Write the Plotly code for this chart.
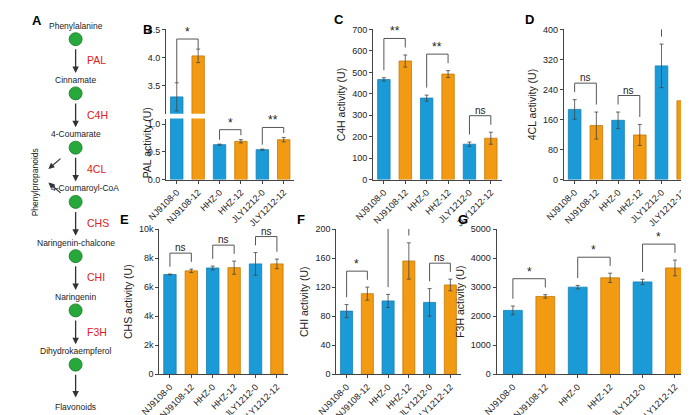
import plotly.graph_objects as go

W, H = 689, 415
cats = ["NJ9108-0", "NJ9108-12", "HHZ-0", "HHZ-12", "JLY1212-0", "JLY1212-12"]
pal_v = [3.30, 4.03, 0.63, 0.69, 0.54, 0.72]
pal_e = [0.25, 0.12, 0.01, 0.03, 0.01, 0.04]
c4h_v = [467, 553, 380, 492, 165, 193]
c4h_e = [8, 28, 14, 16, 10, 28]
cl4_v = [187, 144, 158, 119, 303, 210]
cl4_e = [26, 36, 22, 28, 58, 44]
chs_v = [6870, 7120, 7320, 7340, 7600, 7600]
chs_e = [30, 120, 130, 450, 780, 330]
chi_v = [87, 111, 101, 156, 99, 123]
chi_e = [9, 9, 9, 25, 19, 8]
f3h_v = [2200, 2680, 3000, 3320, 3180, 3660]
f3h_e = [150, 60, 60, 160, 90, 270]
sig = {
    "B": ["*", "*", "**"], "C": ["**", "**", "ns"], "D": ["ns", "ns", "ns"],
    "E": ["ns", "ns", "ns"], "F": ["*", "*", "ns"], "G": ["*", "*", "*"],
}
nodes = ["Phenylalanine", "Cinnamate", "4-Coumarate", "4-Coumaroyl-CoA",
         "Naringenin-chalcone", "Naringenin", "Dihydrokaempferol"]
enzymes = ["PAL", "C4H", "4CL", "CHS", "CHI", "F3H"]
end_node = "Flavonoids"

BLUE, ORANGE = "#1a9ad6", "#f29a12"
BLUE_L, ORANGE_L = "#1580b4", "#c47a08"
FONT = "Liberation Sans, Arial"

def xd(a, b): return [a / W, b / W]
def yd(top, bot): return [1 - bot / H, 1 - top / H]

fig = go.Figure()
layout = dict(width=W, height=H, margin=dict(l=0, r=0, t=0, b=0),
              plot_bgcolor="rgba(0,0,0,0)", paper_bgcolor="white", showlegend=False,
              font=dict(family=FONT, size=9, color="#222"), bargap=0.42)
shapes, annots = [], []

TOP = (17, 172); BOT = (223, 373)
panels = [
    ("C", c4h_v, c4h_e, "C4H activity (U)", (356, 488), TOP, [0, 700], 100, 2),
    ("D", cl4_v, cl4_e, "4CL activity (U)", (552, 686), TOP, [0, 400], 80, 3),
    ("E", chs_v, chs_e, "CHS activity (U)", (136, 268), BOT, [0, 10000], 2000, 4),
    ("F", chi_v, chi_e, "CHI activity (U)", (318, 446), BOT, [0, 200], 40, 5),
    ("G", f3h_v, f3h_e, "F3H activity (U)", (483, 683), BOT, [0, 5000], 1000, 6),
]

def bars(xa, ya, v, e):
    fig.add_trace(go.Bar(x=cats, y=v, xaxis=xa, yaxis=ya,
                         marker=dict(color=[BLUE, ORANGE] * 3,
                                     line=dict(color=[BLUE_L, ORANGE_L] * 3, width=0.8)),
                         error_y=dict(type="data", array=e, color="#444", thickness=0.8, width=2)))

def xaxis_cfg(dom, anchor):
    return dict(domain=xd(*dom), anchor=anchor, showline=True, linecolor="#444",
                tickangle=-45, ticks="outside", ticklen=3, tickcolor="#444",
                tickfont=dict(size=9), showgrid=False)

def yaxis_cfg(dom, anchor, rng, dt, title):
    return dict(domain=yd(*dom), anchor=anchor, range=rng, dtick=dt, showline=True,
                linecolor="#444", ticks="outside", ticklen=3, tickcolor="#444",
                showgrid=False, zeroline=False, tickfont=dict(size=9),
                title=dict(text=title, font=dict(size=10.5), standoff=4))

def brackets(xa, ya, v, e, labels, span, gap_frac=0.05, h_frac=0.06):
    for k, lab in enumerate(labels):
        i, j = 2 * k, 2 * k + 1
        gap = span * gap_frac
        lo_i, lo_j = v[i] + e[i] + gap, v[j] + e[j] + gap
        top = max(lo_i, lo_j) + span * h_frac
        line = dict(color="#555", width=1)
        shapes.append(dict(type="path", xref=xa, yref=ya, line=line,
                           path=f"M {i} {lo_i} L {i} {top} L {j} {top} L {j} {lo_j}"))
        annots.append(dict(x=(i + j) / 2, y=top, xref=xa, yref=ya, text=lab, showarrow=False,
                           yanchor="bottom", font=dict(size=10 if lab == "ns" else 12), yshift=-2))

for letter, v, e, title, xdom, ydom, rng, dt, n in panels:
    xa, ya = f"x{n}", f"y{n}"
    bars(xa, ya, v, e)
    layout[f"xaxis{n}"] = xaxis_cfg(xdom, ya)
    layout[f"yaxis{n}"] = yaxis_cfg(ydom, xa, rng, dt, title)
    brackets(xa, ya, v, e, sig[letter], rng[1] - rng[0])
    annots.append(dict(x=(xdom[0] - 42) / W, y=1 - (ydom[0] - 10) / H, xref="paper", yref="paper",
                       text=f"<b>{letter}</b>", showarrow=False, font=dict(size=13, color="black"),
                       xanchor="left", yanchor="middle"))

# Panel B (broken axis)
bx = (143, 275)
bars("x", "y", pal_v, pal_e)
bars("x", "y8", pal_v, pal_e)
layout["xaxis"] = xaxis_cfg(bx, "y")
layout["yaxis"] = yaxis_cfg((109, 172), "x", [0, 1.1], 0.5, "")
layout["yaxis"]["tickformat"] = ".1f"
layout["yaxis8"] = yaxis_cfg((17, 104), "x", [3.0, 4.5], 0.5, "")
layout["yaxis8"]["tickvals"] = [3.5, 4.0, 4.5]
layout["yaxis8"]["ticktext"] = ["3.5", "4.0", "4.5"]
annots.append(dict(x=(bx[0] - 28) / W, y=1 - 95 / H, xref="paper", yref="paper", textangle=-90,
                   text="PAL activity (U)", showarrow=False, font=dict(size=10.5)))
annots.append(dict(x=(bx[0] - 26) / W, y=1 - 7 / H, xref="paper", yref="paper", text="<b>B</b>",
                   showarrow=False, font=dict(size=13, color="black"), xanchor="left"))
brackets("x", "y8", pal_v[:2], pal_e[:2], sig["B"][:1], 1.5, 0.0, 0.12)
for k, lab in enumerate(sig["B"][1:], start=1):
    i, j = 2 * k, 2 * k + 1
    lo_i, lo_j = pal_v[i] + pal_e[i] + 0.08, pal_v[j] + pal_e[j] + 0.08
    top = max(lo_i, lo_j) + 0.1
    shapes.append(dict(type="path", xref="x", yref="y", line=dict(color="#555", width=1),
                       path=f"M {i} {lo_i} L {i} {top} L {j} {top} L {j} {lo_j}"))
    annots.append(dict(x=(i + j) / 2, y=top, xref="x", yref="y", text=lab, showarrow=False,
                       yanchor="bottom", font=dict(size=12), yshift=-2))

# Panel A pathway on its own pixel axis (left strip only)
AW = 112
layout["xaxis7"] = dict(domain=[0, AW / W], range=[0, AW], visible=False, fixedrange=True, anchor="y7")
layout["yaxis7"] = dict(domain=[0, 1], range=[H, 0], visible=False, fixedrange=True, anchor="x7")
cx, step, y0 = 50, 56, 27
ys = [y0 + i * step for i in range(len(nodes))]
fig.add_trace(go.Scatter(x=[cx] * len(nodes), y=ys, xaxis="x7", yaxis="y7", mode="markers",
                         marker=dict(size=13, color="#27a83a", line=dict(color="#1a7a2a", width=0.8))))
for i, name in enumerate(nodes):
    annots.append(dict(x=cx, y=ys[i] - 14, xref="x7", yref="y7", text=name, showarrow=False,
                       xshift=9 if name == "4-Coumaroyl-CoA" else 0,
                       font=dict(size=8.5, color="#222")))
for i, enz in enumerate(enzymes):
    ya_, yb_ = ys[i] + 9, ys[i + 1] - 21
    annots.append(dict(x=cx, y=yb_, ax=cx, ay=ya_, xref="x7", yref="y7", axref="x7", ayref="y7",
                       text="", showarrow=True, arrowhead=2, arrowsize=1, arrowwidth=1.3, arrowcolor="#333"))
    annots.append(dict(x=cx + 10, y=(ya_ + yb_) / 2, xref="x7", yref="y7", text=enz, showarrow=False,
                       xanchor="left", font=dict(size=10.5, color="#e02020")))
annots.append(dict(x=cx, y=ys[-1] + 34, ax=cx, ay=ys[-1] + 9, xref="x7", yref="y7", axref="x7", ayref="y7",
                   text="", showarrow=True, arrowhead=2, arrowsize=1, arrowwidth=1.3, arrowcolor="#333"))
annots.append(dict(x=cx, y=ys[-1] + 44, xref="x7", yref="y7", text=end_node, showarrow=False,
                   font=dict(size=8.5, color="#222")))
for yy, ty in [(ys[2] + 10, ys[2] + 22), (ys[3] - 8, ys[3] - 20)]:
    annots.append(dict(x=22, y=ty, ax=36, ay=yy, xref="x7", yref="y7", axref="x7", ayref="y7",
                       text="", showarrow=True, arrowhead=2, arrowsize=1, arrowwidth=1.2, arrowcolor="#333"))
annots.append(dict(x=8, y=(ys[2] + ys[3]) / 2 + 8, xref="x7", yref="y7", text="Phenylpropanoids",
                   textangle=-90, showarrow=False, font=dict(size=8.5, color="#222")))
annots.append(dict(x=3, y=8, xref="x7", yref="y7", text="<b>A</b>", showarrow=False, xanchor="left",
                   font=dict(size=13, color="black")))

layout["shapes"] = shapes
layout["annotations"] = annots
fig.update_layout(**layout)
fig.write_html("out.html")
